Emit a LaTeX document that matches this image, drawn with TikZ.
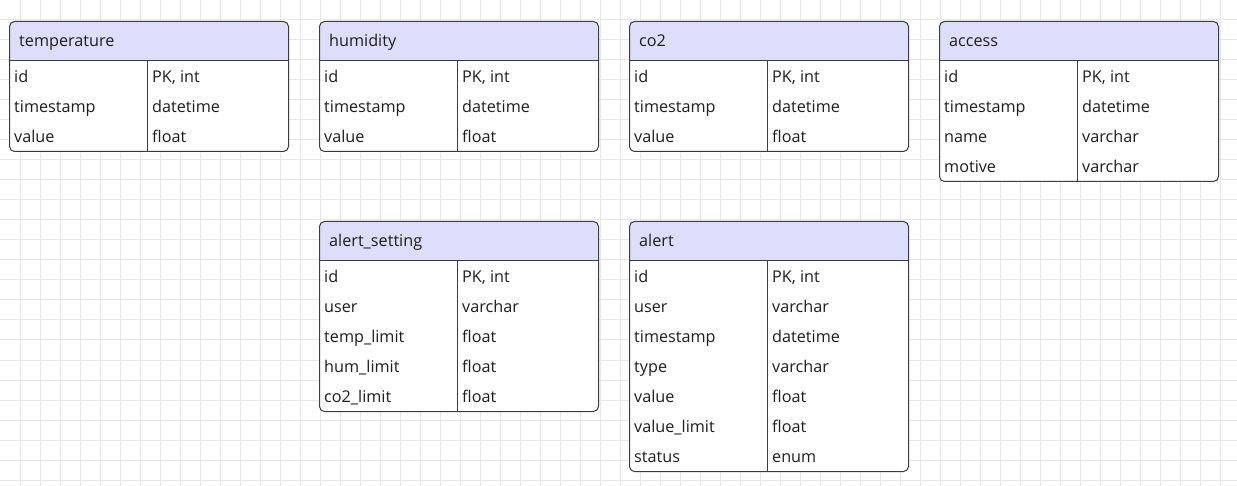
\documentclass[tikz,border=0pt]{standalone}
\usepackage{fontspec}
\setmainfont{Open Sans}
\definecolor{hdr}{RGB}{221,221,252}
\definecolor{bord}{RGB}{60,60,60}
\definecolor{txt}{RGB}{30,30,30}
\definecolor{gridc}{RGB}{230,230,230}
\tikzset{
  cell/.style={anchor=base west, inner sep=0pt, font=\fontsize{16.2}{19}\selectfont, text=txt},
  gridline/.style={draw=gridc, line width=1pt},
  tblline/.style={draw=bord, line width=1pt},
}
% #1 name, #2 left x, #3 top y, #4 title, #5 number of rows
\newcommand\erentity[5]{%
  \begin{scope}
    \clip[rounded corners=5pt] (#2,#3) rectangle ({#2+279},{#3+40+30*#5});
    \fill[white] (#2,#3) rectangle ({#2+279},{#3+40+30*#5});
    \fill[hdr] (#2,#3) rectangle ({#2+279},{#3+40});
  \end{scope}
  \node[tblline, rounded corners=5pt, minimum width=279pt, minimum height={40+30*#5}, inner sep=0pt, anchor=north west] (#1) at (#2,#3) {};
  \coordinate (#1-hl) at (#2,{#3+40});
  \coordinate (#1-hr) at ({#2+279},{#3+40});
  \coordinate (#1-dt) at ({#2+138},{#3+40});
  \coordinate (#1-db) at ({#2+138},{#3+40+30*#5});
  \draw[tblline] (#1-hl) -- (#1-hr);
  \draw[tblline] (#1-dt) -- (#1-db);
  \node[cell] (#1-title) at ({#2+10},{#3+26}) {#4};
}
% #1 name, #2 left x, #3 top y, #4 row index, #5 field, #6 type
\newcommand\errow[6]{%
  \node[cell] (#1-#4a) at ({#2+5},{#3+40+30*#4-8.5}) {#5};
  \node[cell] (#1-#4b) at ({#2+143},{#3+40+30*#4-8.5}) {#6};
}
\begin{document}
\begin{tikzpicture}[x=1pt, y=-1pt]
\useasboundingbox (0,0) rectangle (1237,486);
\fill[white] (0,0) rectangle (1237,486);
\foreach \gx in {20,40,...,1220} { \draw[gridline] (\gx,0) -- (\gx,486); }
\foreach \gy in {20,40,...,480} { \draw[gridline] (0,\gy) -- (1237,\gy); }

\erentity{temperature}{9}{21}{temperature}{3}
\errow{temperature}{9}{21}{1}{id}{PK, int}
\errow{temperature}{9}{21}{2}{timestamp}{datetime}
\errow{temperature}{9}{21}{3}{value}{float}

\erentity{humidity}{319}{21}{humidity}{3}
\errow{humidity}{319}{21}{1}{id}{PK, int}
\errow{humidity}{319}{21}{2}{timestamp}{datetime}
\errow{humidity}{319}{21}{3}{value}{float}

\erentity{co2}{629}{21}{co2}{3}
\errow{co2}{629}{21}{1}{id}{PK, int}
\errow{co2}{629}{21}{2}{timestamp}{datetime}
\errow{co2}{629}{21}{3}{value}{float}

\erentity{access}{939}{21}{access}{4}
\errow{access}{939}{21}{1}{id}{PK, int}
\errow{access}{939}{21}{2}{timestamp}{datetime}
\errow{access}{939}{21}{3}{name}{varchar}
\errow{access}{939}{21}{4}{motive}{varchar}

\erentity{alertsetting}{319}{221}{alert\_setting}{5}
\errow{alertsetting}{319}{221}{1}{id}{PK, int}
\errow{alertsetting}{319}{221}{2}{user}{varchar}
\errow{alertsetting}{319}{221}{3}{temp\_limit}{float}
\errow{alertsetting}{319}{221}{4}{hum\_limit}{float}
\errow{alertsetting}{319}{221}{5}{co2\_limit}{float}

\erentity{alert}{629}{221}{alert}{7}
\errow{alert}{629}{221}{1}{id}{PK, int}
\errow{alert}{629}{221}{2}{user}{varchar}
\errow{alert}{629}{221}{3}{timestamp}{datetime}
\errow{alert}{629}{221}{4}{type}{varchar}
\errow{alert}{629}{221}{5}{value}{float}
\errow{alert}{629}{221}{6}{value\_limit}{float}
\errow{alert}{629}{221}{7}{status}{enum}
\end{tikzpicture}
\end{document}
